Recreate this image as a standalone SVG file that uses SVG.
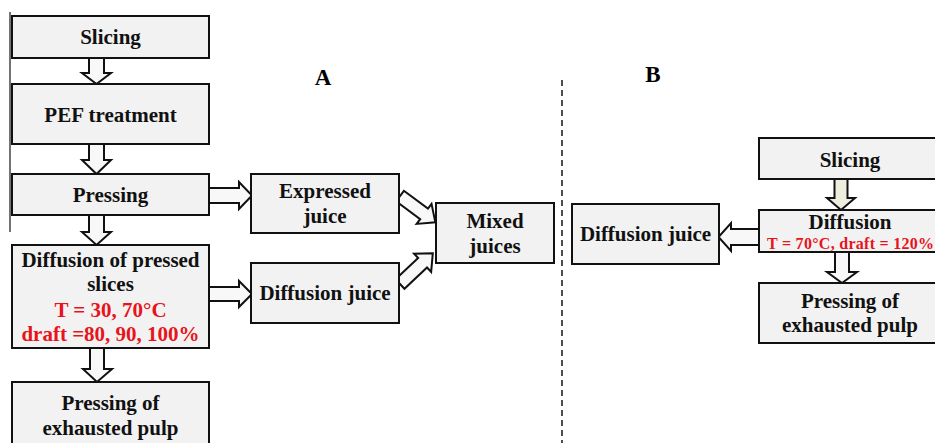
<svg xmlns="http://www.w3.org/2000/svg" width="935" height="443" viewBox="0 0 935 443">
<style>
.box{fill:#f2f2f2;stroke:#111;stroke-width:2}
.arr{fill:#f8f8f8;stroke:#111;stroke-width:2;stroke-linejoin:miter}
.t{font-family:"Liberation Serif","Times New Roman",serif;font-weight:bold;font-size:21px;fill:#111;text-anchor:middle}
.r{fill:#e8141b}
.lbl{font-family:"Liberation Serif","Times New Roman",serif;font-weight:bold;font-size:23px;fill:#000;text-anchor:middle}
</style>
<rect width="935" height="443" fill="#fff"/>
<line x1="10" y1="12" x2="10" y2="232" stroke="#444" stroke-width="1.5"/>
<line x1="562" y1="80" x2="562" y2="443" stroke="#222" stroke-width="1.6" stroke-dasharray="6 4"/>
<text class="lbl" x="323" y="85">A</text>
<text class="lbl" x="653" y="82">B</text>

<g id="connectors">
  <polygon class="arr" points="89,58 104,58 104,73 111,73 96.5,84 82,73 89,73"/>
  <polygon class="arr" points="89,144 104,144 104,160 111,160 96.5,174 82,160 89,160"/>
  <polygon class="arr" points="89,215 104,215 104,232 111,232 96.5,245 82,232 89,232"/>
  <polygon class="arr" points="90,348 104,348 104,369 112,369 97,382 83,369 90,369"/>
  <polygon class="arr" points="209,188 239,188 239,182 252,195.5 239,209 239,203 209,203"/>
  <polygon class="arr" points="209,287 239,287 239,281 252,294 239,307 239,301 209,301"/>
  <polygon class="arr" transform="translate(400,196) rotate(36.6)" points="0,-6.5 30,-6.5 30,-12.5 44,0 30,12.5 30,6.5 0,6.5"/>
  <polygon class="arr" transform="translate(400,284) rotate(-43.2)" points="0,-6.5 31,-6.5 31,-12.5 45,0 31,12.5 31,6.5 0,6.5"/>
  <polygon class="arr" style="fill:#eeeedf" points="834.5,179 847.5,179 847.5,198 855,198 841,210 827,198 834.5,198"/>
  <polygon class="arr" points="835,252 849,252 849,272 857,272 842,283 827,272 835,272"/>
  <polygon class="arr" points="759,229 731,229 731,223 718.5,237 731,251 731,245 759,245"/>
</g>

<g id="a-slicing"><rect class="box" x="12" y="16" width="197" height="42"/><text class="t" x="110.5" y="44">Slicing</text></g>
<g id="a-pef"><rect class="box" x="12" y="84" width="197" height="60"/><text class="t" x="110.5" y="122">PEF treatment</text></g>
<g id="a-pressing"><rect class="box" x="12" y="174" width="197" height="41"/><text class="t" x="110.5" y="202">Pressing</text></g>
<g id="a-diffusion"><rect class="box" x="12" y="245" width="197" height="103"/>
  <text class="t" x="110.5" y="267">Diffusion of pressed</text>
  <text class="t" x="110.5" y="291">slices</text>
  <text class="t r" x="110.5" y="317">T = 30, 70°C</text>
  <text class="t r" x="110.5" y="341">draft =80, 90, 100%</text></g>
<g id="a-pressing-pulp"><rect class="box" x="12" y="382" width="197" height="75"/>
  <text class="t" x="110.5" y="410">Pressing of</text>
  <text class="t" x="110.5" y="435">exhausted pulp</text></g>
<g id="a-expressed"><rect class="box" x="251" y="174" width="148" height="59"/>
  <text class="t" x="325" y="198">Expressed</text>
  <text class="t" x="325" y="223">juice</text></g>
<g id="a-diffjuice"><rect class="box" x="251" y="263" width="148" height="60"/>
  <text class="t" x="325" y="300">Diffusion juice</text></g>
<g id="a-mixed"><rect class="box" x="436" y="203" width="118" height="60"/>
  <text class="t" x="495" y="228">Mixed</text>
  <text class="t" x="495" y="253">juices</text></g>

<g id="b-diffjuice"><rect class="box" x="572" y="204" width="147" height="60"/>
  <text class="t" x="645.5" y="241">Diffusion juice</text></g>
<g id="b-slicing"><rect class="box" x="759" y="138" width="180" height="41"/>
  <text class="t" x="850" y="167">Slicing</text></g>
<g id="b-diffusion"><rect class="box" x="759" y="210" width="180" height="42"/>
  <text class="t" x="850" y="229">Diffusion</text>
  <text class="t r" x="767" y="249" style="font-size:16px;text-anchor:start" textLength="167" lengthAdjust="spacing">T = 70°C, draft = 120%</text></g>
<g id="b-pressing"><rect class="box" x="759" y="283" width="180" height="60"/>
  <text class="t" x="850" y="308">Pressing of</text>
  <text class="t" x="850" y="332">exhausted pulp</text></g>
</svg>
